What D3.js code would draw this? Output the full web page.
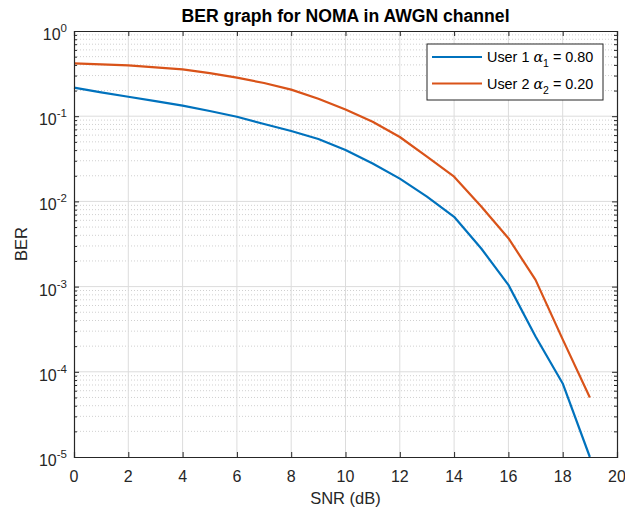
<!DOCTYPE html>
<html><head><meta charset="utf-8">
<script src="https://cdn.jsdelivr.net/npm/d3@7"></script>
<style>
body{margin:0;background:#fff;}
svg{display:block;font-family:"Liberation Sans",Arial,Helvetica,sans-serif;}
</style></head>
<body>
<svg id="chart" width="625" height="516"></svg>
<script>
const snr = [0,1,2,3,4,5,6,7,8,9,10,11,12,13,14,15,16,17,18,19];
const user1 = [0.216,0.19,0.169,0.15,0.133,0.115,0.0986,0.081,0.067,0.054,0.040,0.0278,0.0185,0.0114,0.0066,0.0028,0.00105,0.00026,0.000073,0.00001];
const user2 = [0.417,0.405,0.395,0.375,0.355,0.32,0.284,0.245,0.205,0.16,0.12,0.086,0.057,0.0335,0.0195,0.0087,0.0037,0.0012,0.00024,0.00005];
const xTicks = [0,2,4,6,8,10,12,14,16,18,20];
const yExponents = [0,-1,-2,-3,-4,-5];
const seriesNames = ["User 1", "User 2"];
const alphaSubs = ["1","2"];
const alphaVals = ["0.80","0.20"];
const colors = ["#0072BD","#D95319"];

const svg = d3.select("#chart");
const L = 74, R = 617, T = 31, B = 457;
const x = d3.scaleLinear().domain([0,20]).range([L,R]);
const y = d3.scaleLog().domain([1e-5,1]).range([B,T]);
const axisColor = "#262626";

// minor grid (y, log minors)
const minors = [];
yExponents.forEach(e => { if (e < 0) for (let k = 2; k <= 9; k++) minors.push(k*Math.pow(10,e)); });
svg.append("g").selectAll("line").data(minors).join("line")
  .attr("x1",L).attr("x2",R).attr("y1",d=>y(d)).attr("y2",d=>y(d))
  .attr("stroke","#d0d0d0").attr("stroke-width",1).attr("stroke-dasharray","1,2");
// major grid
svg.append("g").selectAll("line").data(xTicks.slice(1,-1)).join("line")
  .attr("x1",d=>x(d)).attr("x2",d=>x(d)).attr("y1",T).attr("y2",B)
  .attr("stroke","#dcdcdc").attr("stroke-width",1);
svg.append("g").selectAll("line").data(yExponents.slice(1,-1)).join("line")
  .attr("y1",d=>y(Math.pow(10,d))).attr("y2",d=>y(Math.pow(10,d))).attr("x1",L).attr("x2",R)
  .attr("stroke","#dcdcdc").attr("stroke-width",1);

// lines
const line = d3.line().x((d,i)=>x(snr[i])).y(d=>y(d));
[user1,user2].forEach((s,i)=>{
  svg.append("path").datum(s).attr("d",line).attr("fill","none")
    .attr("stroke",colors[i]).attr("stroke-width",2.2).attr("stroke-linejoin","round");
});

// axes using d3 axis
const xAxisB = d3.axisBottom(x).tickValues(xTicks).tickSize(-5).tickFormat("");
const xAxisT = d3.axisTop(x).tickValues(xTicks).tickSize(-5).tickFormat("");
const yAxisL = d3.axisLeft(y).tickValues(yExponents.map(e=>Math.pow(10,e))).tickSize(-5).tickFormat("");
const yAxisR = d3.axisRight(y).tickValues(yExponents.map(e=>Math.pow(10,e))).tickSize(-5).tickFormat("");
const yMinL = d3.axisLeft(y).tickValues(minors).tickSize(-3).tickFormat("");
const yMinR = d3.axisRight(y).tickValues(minors).tickSize(-3).tickFormat("");
function styleAxis(g){ g.selectAll("path,line").attr("stroke",axisColor).attr("stroke-width",1); g.select(".domain").attr("stroke-width",1.2); }
svg.append("g").attr("transform",`translate(0,${B})`).call(xAxisB).call(styleAxis);
svg.append("g").attr("transform",`translate(0,${T})`).call(xAxisT).call(styleAxis);
svg.append("g").attr("transform",`translate(${L},0)`).call(yAxisL).call(styleAxis);
svg.append("g").attr("transform",`translate(${R},0)`).call(yAxisR).call(styleAxis);
svg.append("g").attr("transform",`translate(${L},0)`).call(yMinL).call(styleAxis).select(".domain").remove();
svg.append("g").attr("transform",`translate(${R},0)`).call(yMinR).call(styleAxis).select(".domain").remove();

// x tick labels
svg.append("g").selectAll("text").data(xTicks).join("text")
  .attr("x",d=>x(d)).attr("y",B+25).attr("text-anchor","middle")
  .attr("font-size",16).attr("fill",axisColor).text(d=>d);
// y tick labels
const yl = svg.append("g").selectAll("text").data(yExponents).join("text")
  .attr("x",L-7).attr("y",d=>y(Math.pow(10,d))+9).attr("text-anchor","end")
  .attr("fill",axisColor);
yl.append("tspan").attr("font-size",16).text("10");
yl.append("tspan").attr("font-size",11.5).attr("dy",-8).text(d=>d===0?"0":"-"+Math.abs(d));

// axis labels
svg.append("text").attr("x",(L+R)/2).attr("y",504).attr("text-anchor","middle")
  .attr("font-size",16.5).attr("fill",axisColor).text("SNR (dB)");
svg.append("text").attr("transform",`translate(27,${(T+B)/2}) rotate(-90)`).attr("text-anchor","middle")
  .attr("font-size",16.5).attr("fill",axisColor).text("BER");
// title
svg.append("text").attr("x",(L+R)/2).attr("y",22).attr("text-anchor","middle")
  .attr("font-size",17.6).attr("font-weight","bold").attr("fill","#000").text("BER graph for NOMA in AWGN channel");

// legend
const lg = svg.append("g");
lg.append("rect").attr("x",427).attr("y",44).attr("width",176).attr("height",56)
  .attr("fill","#fff").attr("stroke",axisColor).attr("stroke-width",1);
seriesNames.forEach((n,i)=>{
  const cy = 57 + i*26.5;
  lg.append("line").attr("x1",432).attr("x2",482).attr("y1",cy).attr("y2",cy)
    .attr("stroke",colors[i]).attr("stroke-width",2.2);
  const t = lg.append("text").attr("x",487).attr("y",cy+5).attr("font-size",14.4).attr("fill","#000");
  t.append("tspan").text(n+" ");
  t.append("tspan").attr("font-style","italic").attr("font-family","'DejaVu Serif','Liberation Serif',serif").text("α");
  t.append("tspan").attr("font-size",10.5).attr("dy",5).text(alphaSubs[i]);
  t.append("tspan").attr("dy",-5).text(" = "+alphaVals[i]);
});
</script>
</body></html>
